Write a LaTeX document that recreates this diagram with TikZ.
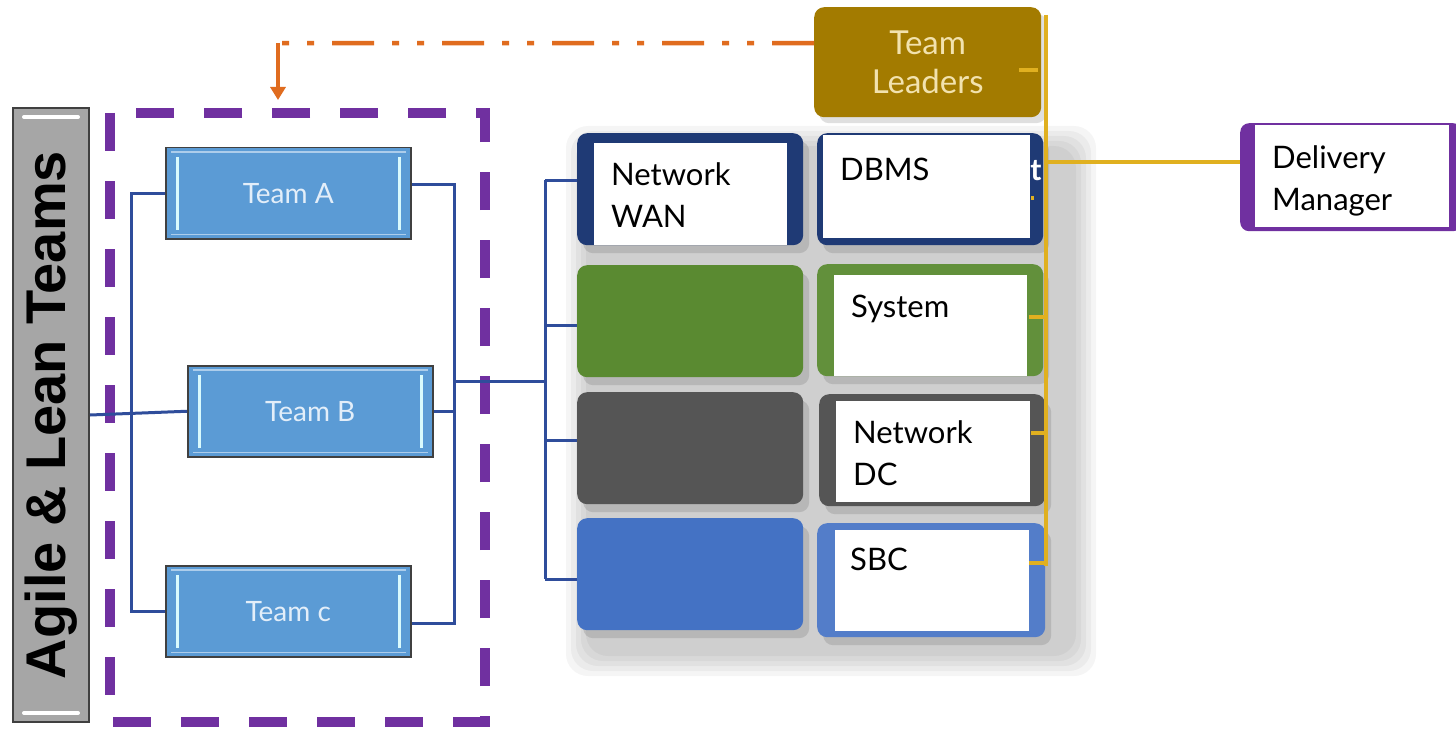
\documentclass[tikz,border=0pt]{standalone}
\usepackage{fontspec}
\setmainfont{Lato}
\newfontfamily\arialfont{Liberation Sans}
\usetikzlibrary{shadows,arrows.meta}
\definecolor{navy}{HTML}{1F3A75}
\definecolor{cgreen}{HTML}{5A8A31}
\definecolor{cgray}{HTML}{555555}
\definecolor{cblue}{HTML}{4472C4}
\definecolor{tlbrown}{HTML}{A37B00}
\definecolor{tlcream}{HTML}{F2E2AE}
\definecolor{teamblue}{HTML}{5B9BD5}
\definecolor{teamtext}{HTML}{E3EEF9}
\definecolor{connblue}{HTML}{2F4D9B}
\definecolor{goldl}{HTML}{E0B020}
\definecolor{orangel}{HTML}{E06C1F}
\definecolor{purp}{HTML}{7030A0}
\definecolor{barg}{HTML}{A6A6A6}
\newcommand\lblfont{\fontsize{31}{42}\selectfont}
\begin{document}
\begin{tikzpicture}[x=1pt,y=-1pt,
  cell/.style={rounded corners=10pt, anchor=north west, inner sep=0,
    minimum width=226pt, minimum height=112pt,
    drop shadow={shadow xshift=6pt, shadow yshift=-8pt, opacity=0.3}},
  wbox/.style={fill=white, anchor=north west, inner sep=0},
  lbl/.style={anchor=north west, inner sep=0, align=left, font=\lblfont, text=black},
  team/.style={draw=black!75, line width=1.5pt, fill=teamblue, anchor=north west,
    minimum width=245pt, minimum height=91pt, inner sep=0, text=teamtext,
    font=\fontsize{28}{30}\selectfont},
  hl/.style={draw=teamtext!70!cyan!40!white, line width=3pt},
  conn/.style={draw=connblue, line width=3pt},
  goldline/.style={draw=goldl, line width=4pt},
]
\useasboundingbox (0,0) rectangle (1456,733);
\fill[white] (0,0) rectangle (1456,733);

% soft background behind the right block
\foreach \i in {0,5,10,15,20}
  \fill[black, opacity=0.04, rounded corners=22pt] (566+\i,126+\i) rectangle (1096-\i,676-\i);

% purple dashed frame
\draw[purp, line width=10pt, dash pattern=on 38pt off 30pt] (110,113) rectangle (485,722);

% Agile bar
\node[draw=black!75, line width=2pt, fill=barg, minimum width=76pt, minimum height=614pt,
  inner sep=0] (agile) at (51,415)
  {\rotatebox{90}{\arialfont\bfseries\fontsize{56}{60}\selectfont Agile \& Lean Teams}};
\draw[white, line width=4pt, line cap=round] ([xshift=12pt,yshift=-10pt]agile.north west) -- ([xshift=-12pt,yshift=-10pt]agile.north east);
\draw[white, line width=4pt, line cap=round] ([xshift=12pt,yshift=10pt]agile.south west) -- ([xshift=-12pt,yshift=10pt]agile.south east);

% Team boxes
\node[team] (ta) at (165,147) {Team A};
\node[team] (tb) at (187,365) {Team B};
\node[team] (tc) at (165,565) {Team c};
\foreach \t in {ta,tb,tc}{
  \draw[hl] ([xshift=12pt,yshift=-10pt]\t.north west) -- ([xshift=12pt,yshift=10pt]\t.south west);
  \draw[hl] ([xshift=-12pt,yshift=-10pt]\t.north east) -- ([xshift=-12pt,yshift=10pt]\t.south east);
  \draw[teamtext!60!teamblue, line width=1.5pt] ([xshift=6pt,yshift=-5pt]\t.north west) -- ([xshift=-6pt,yshift=-5pt]\t.north east);
  \draw[teamtext!60!teamblue, line width=1.5pt] ([xshift=6pt,yshift=5pt]\t.south west) -- ([xshift=-6pt,yshift=5pt]\t.south east);
}

% right block cells
\node[cell, fill=navy] (n1l) at (577,133) {};
\node[cell, fill=navy] (n1r) at (817,133) {};
\node[cell, fill=cgreen] (n2l) at (577,265) {};
\node[cell, fill=cgreen!95!white] (n2r) at (817,264) {};
\node[cell, fill=cgray] (n3l) at (577,392) {};
\node[cell, fill=cgray] (n3r) at (819,394) {};
\node[cell, fill=cblue] (n4l) at (577,518) {};
\node[cell, fill=cblue!92!white, minimum width=228pt, minimum height=114pt] (n4r) at (817,523) {};

% hidden-text fragment
\node[text=white, inner sep=0, font=\fontsize{30}{30}\selectfont\bfseries, anchor=base] (frag) at (1036,180) {t};

% white label boxes
\node[wbox, minimum width=193pt, minimum height=102pt] (wan) at (594,143) {};
\node[wbox, minimum width=207pt, minimum height=103pt] (dbms) at (823,135) {};
\node[wbox, minimum width=193pt, minimum height=101pt] (sys) at (834,275) {};
\node[wbox, minimum width=194pt, minimum height=101pt] (dc) at (836,401) {};
\node[wbox, minimum width=194pt, minimum height=101pt] (sbc) at (835,530) {};
\node[lbl] (want) at (611,162) {Network\\WAN};
\node[lbl] (dbmst) at (840,158) {DBMS};
\node[lbl] (syst) at (851,295) {System};
\node[lbl] (dct) at (853,420) {Network\\DC};
\node[lbl] (sbct) at (850,548) {SBC};

% Team Leaders
\node[rounded corners=10pt, fill=tlbrown, anchor=north west, minimum width=227pt, minimum height=110pt,
  inner sep=0, align=center, text=tlcream, font=\fontsize{33}{39}\selectfont,
  drop shadow={shadow xshift=5pt, shadow yshift=-6pt, opacity=0.25}] (tl) at (814,7) {Team\\Leaders};

% Delivery Manager
\node[rounded corners=9pt, fill=purp, anchor=north west, minimum width=222pt, minimum height=108pt, inner sep=0] (dmo) at (1240,123) {};
\node[wbox, minimum width=194pt, minimum height=102pt] (dm) at (1255,125) {};
\node[lbl] (dmt) at (1272,145) {Delivery\\Manager};

% blue connectors
\coordinate (lbus) at (131,400);
\coordinate (rbus) at (454,400);
\coordinate (sbus) at (545,400);
\draw[conn] (agile.east) -- (tb.west);
\draw[conn] (ta.west) -- (ta.west -| lbus) -- (tc.west -| lbus) -- (tc.west);
\draw[conn] ([yshift=9pt]ta.east) -- ([yshift=9pt]ta.east -| rbus) -- ([yshift=-12pt]tc.east -| rbus) -- ([yshift=-12pt]tc.east);
\draw[conn] (tb.east) -- (tb.east -| rbus);
\coordinate (j1) at (454,381);
\draw[conn] (j1) -- (j1 -| sbus);
\draw[conn] ([yshift=9pt]n1l.west -| sbus) -- ([yshift=-5pt]n4l.west -| sbus);
\draw[conn] ([yshift=9pt]n1l.west -| sbus) -- ([yshift=9pt]n1l.west);
\draw[conn] ([yshift=-4pt]n2l.west -| sbus) -- ([yshift=-4pt]n2l.west);
\draw[conn] ([yshift=8pt]n3l.west -| sbus) -- ([yshift=8pt]n3l.west);
\draw[conn] ([yshift=-5pt]n4l.west -| sbus) -- ([yshift=-5pt]n4l.west);

% gold connectors
\coordinate (gtop) at (1046,15);
\coordinate (gbot) at (1046,566);
\draw[goldline] (gtop) -- (gbot);
\draw[goldline] ([xshift=-22pt,yshift=-8pt]tl.east) -- ([xshift=-3pt,yshift=-8pt]tl.east);
\draw[goldline] ([xshift=-12pt,yshift=-9pt]n1r.east) -- ([xshift=-12pt,yshift=-9pt]n1r.east -| gtop);
\draw[goldline] ([xshift=-14pt,yshift=3pt]n2r.east) -- ([yshift=3pt]n2r.east -| gtop);
\draw[goldline] ([xshift=-14pt,yshift=17pt]n3r.east) -- ([yshift=17pt]n3r.east -| gtop);
\draw[goldline] ([xshift=-16pt,yshift=17pt]n4r.east) -- ([yshift=17pt]n4r.east -| gtop);
\draw[goldline] ([yshift=15pt]dmo.west -| gtop) -- ([yshift=15pt]dmo.west);

% orange dash-dot-dot arrow
\coordinate (ocorner) at (278,43);
\coordinate (otip) at (278,100);
\draw[orangel, line width=4.5pt, dash pattern=on 42pt off 18pt on 7pt off 18pt on 7pt off 18pt]
  ([yshift=19pt]tl.west) -- (ocorner);
\draw[orangel, line width=4.5pt, -{Triangle[width=15pt,length=13pt]}] (ocorner) -- (otip);
\end{tikzpicture}
\end{document}
